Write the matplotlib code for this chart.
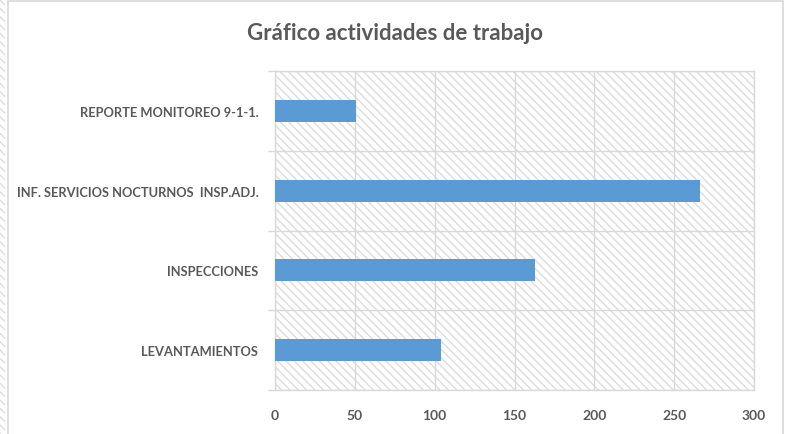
import numpy as np
import matplotlib
matplotlib.use('Agg')
import matplotlib.pyplot as plt
from matplotlib.patches import Rectangle

# data
categorias = ['LEVANTAMIENTOS', 'INSPECCIONES',
              'INF. SERVICIOS NOCTURNOS  INSP.ADJ.', 'REPORTE MONITOREO 9-1-1.']
valores = [104, 163, 266, 51]
xticks = [0, 50, 100, 150, 200, 250, 300]

gris_txt = '#595959'
gris_lin = '#d9d9d9'
gris_hatch = '#dcdcdc'
azul = '#5b9bd5'
rayado = '\\' * 4

plt.rcParams['font.family'] = ['Lato', 'DejaVu Sans']
plt.rcParams['hatch.linewidth'] = 1.0

fig = plt.figure(figsize=(7.91, 4.35), dpi=100)

# chart frame and the sheet strip at the left
fig.patches.append(Rectangle((8 / 791, -0.01), 775 / 791, 1.01 - 2 / 435,
                             transform=fig.transFigure, fill=False,
                             edgecolor=gris_lin, lw=1.2))
fig.patches.append(Rectangle((0, 0), 5 / 791, 1, transform=fig.transFigure,
                             facecolor='white', edgecolor=gris_hatch, lw=0,
                             hatch=rayado))

ax = fig.add_axes([275 / 791, 44 / 435, 479 / 791, 319 / 435])
ax.set_xlim(0, 300)
ax.set_ylim(-0.5, len(categorias) - 0.5)

# hatched plot background
ax.add_patch(Rectangle((0, 0), 1, 1, transform=ax.transAxes, facecolor='white',
                       edgecolor=gris_hatch, lw=0, hatch=rayado, zorder=0))

ypos = np.arange(len(categorias))
ax.barh(ypos, valores, height=0.275, color=azul, zorder=3)

ax.set_xticks(xticks)
ax.set_xticklabels([str(v) for v in xticks])
ax.set_yticks(ypos)
ax.set_yticklabels(categorias)
ax.set_yticks(np.arange(-0.5, len(categorias)), minor=True)

ax.tick_params(axis='x', length=0, pad=14, labelsize=10, labelcolor=gris_txt)
ax.tick_params(axis='y', which='major', length=0, pad=12, labelsize=9.3,
               labelcolor=gris_txt)
ax.tick_params(axis='y', which='minor', length=5, width=1, color=gris_lin)
for lab in ax.get_xticklabels() + ax.get_yticklabels():
    lab.set_fontweight('bold')

ax.grid(axis='x', color=gris_lin, lw=1, zorder=1)
ax.grid(axis='y', which='minor', color=gris_lin, lw=1, zorder=1)
ax.set_axisbelow(True)
for s in ax.spines.values():
    s.set_color(gris_lin)
    s.set_linewidth(1)

fig.text(395 / 791, 1 - 33 / 435, 'Gráfico actividades de trabajo',
         ha='center', va='center', fontsize=16, fontweight='bold', color=gris_txt)

fig.savefig('out.png', dpi=100)
